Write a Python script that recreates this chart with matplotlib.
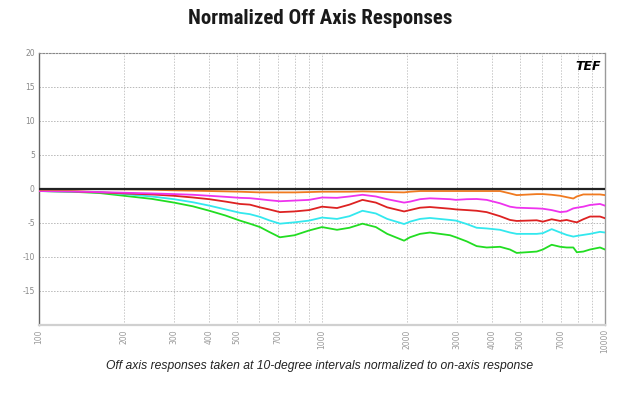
import matplotlib
matplotlib.use("Agg")
import matplotlib.pyplot as plt
from matplotlib.ticker import FixedLocator

# ── data (dB re on-axis) ─────────────────────────────────────────────────────
freq_lo = [100, 130, 164, 200, 250, 300, 350, 400, 456, 513, 556, 604, 650,
           710, 800, 900, 1000, 1130, 1250, 1390, 1550, 1700, 1950]
freq_hi = [2046, 2220, 2406, 2834, 2974, 3245, 3520, 3818, 4256, 4616, 4875,
           5736, 6030, 6480, 6950, 7319, 7727, 7950, 8381, 8851, 9600, 10000]
freqs = freq_lo + freq_hi

on_axis = [0.0] * len(freqs)

deg10 = [-0.1, -0.1, 0.0, -0.05, -0.1, -0.2, -0.25, -0.3, -0.35, -0.4, -0.45,
         -0.5, -0.5, -0.5, -0.5, -0.45, -0.4, -0.4, -0.4, -0.35, -0.4, -0.45,
         -0.5,
         -0.4, -0.3, -0.3, -0.3, -0.3, -0.3, -0.3, -0.3, -0.3, -0.65, -0.9,
         -0.75, -0.75, -0.85, -1.0, -1.2, -1.4, -1.1, -0.8, -0.8, -0.8, -0.9]

deg20 = [-0.3, -0.35, -0.45, -0.55, -0.65, -0.75, -0.85, -1.0, -1.15, -1.3,
         -1.35, -1.5, -1.65, -1.8, -1.7, -1.6, -1.25, -1.3, -1.1, -0.85, -1.1,
         -1.5, -2.0,
         -1.86, -1.5, -1.37, -1.5, -1.6, -1.5, -1.47, -1.6, -2.1, -2.6, -2.75,
         -2.85, -2.9, -3.1, -3.4, -3.3, -2.85, -2.75, -2.6, -2.35, -2.2, -2.45]

deg30 = [-0.3, -0.35, -0.5, -0.65, -0.8, -1.0, -1.25, -1.5, -1.85, -2.2,
         -2.3, -2.7, -3.0, -3.4, -3.3, -3.1, -2.6, -2.8, -2.3, -1.6, -2.0,
         -2.7, -3.3,
         -3.1, -2.75, -2.65, -2.9, -3.0, -3.1, -3.2, -3.4, -4.0, -4.55, -4.7,
         -4.6, -4.8, -4.45, -4.7, -4.55, -4.8, -4.9, -4.45, -4.05, -4.05, -4.3]

deg40 = [-0.3, -0.4, -0.5, -0.75, -1.1, -1.5, -1.95, -2.45, -3.0, -3.5,
         -3.7, -4.1, -4.6, -5.1, -4.9, -4.65, -4.2, -4.4, -4.0, -3.2, -3.6,
         -4.4, -5.15,
         -4.8, -4.4, -4.26, -4.55, -4.65, -5.15, -5.7, -5.8, -6.0, -6.4, -6.6,
         -6.6, -6.5, -5.9, -6.4, -6.75, -7.0, -6.9, -6.75, -6.6, -6.3, -6.4]

deg50 = [-0.3, -0.4, -0.6, -1.0, -1.45, -2.0, -2.55, -3.2, -3.9, -4.65,
         -5.1, -5.6, -6.3, -7.1, -6.8, -6.1, -5.6, -6.0, -5.7, -5.1, -5.6,
         -6.6, -7.6,
         -7.1, -6.6, -6.4, -6.8, -7.1, -7.7, -8.4, -8.6, -8.5, -8.9, -9.4,
         -9.2, -8.9, -8.2, -8.5, -8.6, -8.6, -9.3, -9.2, -8.9, -8.6, -8.9]

series = [
    (deg50, "#22dd22"),
    (deg40, "#33e8ee"),
    (deg30, "#dd2222"),
    (deg20, "#ee33ee"),
    (deg10, "#f07a20"),
    (on_axis, "#222222"),
]

xtick_vals = [100, 200, 300, 400, 500, 700, 1000, 2000, 3000, 4000, 5000,
              7000, 10000]
xgrid_vals = [200, 300, 400, 500, 600, 700, 800, 900, 1000,
              2000, 3000, 4000, 5000, 6000, 7000, 8000, 9000]
ytick_vals = [-15, -10, -5, 0, 5, 10, 15, 20]

# ── figure ───────────────────────────────────────────────────────────────────
fig = plt.figure(figsize=(6.4, 4.04), dpi=100)
fig.patch.set_facecolor("white")
ax = fig.add_axes([39 / 640, 1 - 325 / 404, (605 - 39) / 640, (325 - 53) / 404])

for vals, col in series:
    lw = 1.6 if col == "#222222" else 1.3
    ax.plot(freqs, vals, color=col, lw=lw, zorder=3)

ax.set_xscale("log")
ax.set_xlim(100, 10000)
ax.set_ylim(-20, 20)

ax.xaxis.set_major_locator(FixedLocator(xtick_vals))
ax.xaxis.set_minor_locator(FixedLocator([]))
ax.set_xticklabels([str(v) for v in xtick_vals], rotation=90,
                   fontsize=5.5, color="#999999")
ax.set_yticks(ytick_vals)
ax.set_yticklabels([str(v) for v in ytick_vals], fontsize=5.5, color="#888888")
ax.tick_params(axis="both", length=0, pad=3)

for g in xgrid_vals:
    ax.axvline(g, color="#c8c8c8", lw=0.7, ls=(0, (1.5, 1.5)), zorder=1)
for g in [-15, -10, -5, 0, 5, 10, 15]:
    ax.axhline(g, color="#b8b8b8", lw=0.7, ls=(0, (1.5, 1.5)), zorder=1)

ax.spines["left"].set_color("#666666")
ax.spines["left"].set_linewidth(1.0)
ax.spines["bottom"].set_color("#d0d0d0")
ax.spines["bottom"].set_linewidth(1.6)
ax.spines["right"].set_color("#9a9a9a")
ax.spines["right"].set_linewidth(1.0)
ax.spines["top"].set_color("#888888")
ax.spines["top"].set_linewidth(0.8)
ax.spines["top"].set_linestyle((0, (1.5, 1.5)))

# TEF logo
ax.text(0.992, 0.975, "TEF", transform=ax.transAxes, ha="right", va="top",
        fontsize=9, fontweight="bold", fontstyle="italic", color="black",
        family="DejaVu Sans")

# title and caption
fig.text(0.5, 1 - 18 / 404, "Normalized Off Axis Responses", ha="center",
         va="center", fontsize=15, fontweight="bold", color="#1a1a1a",
         fontstretch="condensed",
         family=["DejaVu Sans Condensed", "Liberation Sans Narrow",
                 "Roboto Condensed", "Open Sans Condensed", "Roboto"])
fig.text(0.5, 1 - 366 / 404,
         "Off axis responses taken at 10-degree intervals normalized to on-axis response",
         ha="center", va="center", fontsize=8.7, fontstyle="italic",
         color="#222222", family=["Liberation Sans", "DejaVu Sans"])

fig.savefig("out.png", dpi=100, facecolor="white")
